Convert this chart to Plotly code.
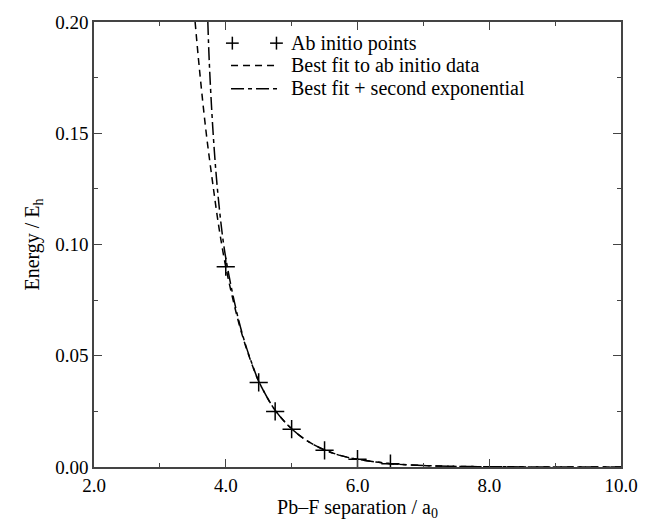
import plotly.graph_objects as go

# Ab initio Pb-F repulsive energies (bohr, hartree)
abinitio_r = [4.0, 4.5, 4.75, 5.0, 5.5, 6.0, 6.5]
abinitio_e = [0.090, 0.038, 0.025, 0.017, 0.0075, 0.0035, 0.0015]

# Fitted curve sampled along r
fit_r = [3.535, 3.6, 3.7, 3.8, 3.9, 4.0, 4.1, 4.2, 4.3, 4.4, 4.5, 4.75, 5.0, 5.25,
         5.5, 5.75, 6.0, 6.5, 7.0, 7.5, 8.0, 9.0, 10.0]
fit_e = [0.200, 0.179, 0.151, 0.128, 0.107, 0.090, 0.0765, 0.0645, 0.0545, 0.046, 0.0385,
         0.0255, 0.0172, 0.0115, 0.0077, 0.0051, 0.0035, 0.0015, 0.00065, 0.00028,
         0.00012, 0.00002, 0.000005]

# Fit plus a short-range second exponential
fit2_r = [3.728, 3.75, 3.8, 3.85, 3.9, 3.95, 4.0, 4.1, 4.2, 4.3, 4.4, 4.5, 4.75, 5.0,
          5.25, 5.5, 5.75, 6.0, 6.5, 7.0, 7.5, 8.0, 9.0, 10.0]
fit2_e = [0.200, 0.182, 0.154, 0.133, 0.117, 0.104, 0.094, 0.0785, 0.0655, 0.055, 0.0463,
          0.0386, 0.0255, 0.0172, 0.0115, 0.0077, 0.0051, 0.0035, 0.0015, 0.00065,
          0.00028, 0.00012, 0.00002, 0.000005]

legend_labels = ["Ab initio points", "Best fit to ab initio data",
                 "Best fit + second exponential"]

FONT = "Liberation Serif"
FS = 20
TICK_FS = 19
DASH = "7px,5px"
DASHDOT = "13px,4px,4px,4px"

fig = go.Figure()
fig.add_trace(go.Scatter(x=fit_r, y=fit_e, mode="lines", line_shape="spline",
                         line=dict(color="black", width=1.5, dash=DASH),
                         showlegend=False))
fig.add_trace(go.Scatter(x=fit2_r, y=fit2_e, mode="lines", line_shape="spline",
                         line=dict(color="black", width=1.5, dash=DASHDOT),
                         showlegend=False))
fig.add_trace(go.Scatter(x=abinitio_r, y=abinitio_e, mode="markers",
                         marker=dict(symbol="cross-thin", size=13,
                                     line=dict(color="black", width=1.5)),
                         showlegend=False))

# Key inside the plot, placed in axis units near the top
key_x0, key_x1, key_text_x = 4.10, 4.77, 4.96
key_rows = [0.1905, 0.1805, 0.1700]
arm_x, arm_y = 0.097, 0.0029

shapes = []
for cx in (key_x0, key_x1):
    shapes.append(dict(type="line", xref="x", yref="y",
                       x0=cx - arm_x, x1=cx + arm_x, y0=key_rows[0], y1=key_rows[0],
                       line=dict(color="black", width=1.5)))
    shapes.append(dict(type="line", xref="x", yref="y",
                       x0=cx, x1=cx, y0=key_rows[0] - arm_y, y1=key_rows[0] + arm_y,
                       line=dict(color="black", width=1.5)))
for row, dash in ((key_rows[1], DASH), (key_rows[2], DASHDOT)):
    shapes.append(dict(type="line", xref="x", yref="y",
                       x0=key_x0 - 0.02, x1=key_x1 + 0.02, y0=row, y1=row,
                       line=dict(color="black", width=1.5, dash=dash)))

annotations = [dict(text=label, xref="x", yref="y", x=key_text_x, y=row,
                    xanchor="left", yanchor="middle", showarrow=False,
                    font=dict(family=FONT, size=FS, color="black"))
               for row, label in zip(key_rows, legend_labels)]

axis_common = dict(showline=True, linecolor="#444", linewidth=1.5, mirror="allticks",
                   ticks="inside", ticklen=8, tickwidth=1.2, tickcolor="#444",
                   showgrid=False, zeroline=False,
                   tickfont=dict(family=FONT, size=TICK_FS, color="black"))

fig.update_layout(
    width=650, height=522,
    margin=dict(l=94, r=18, t=22, b=44),
    paper_bgcolor="white", plot_bgcolor="white",
    font=dict(family=FONT, size=FS, color="black"),
    shapes=shapes, annotations=annotations,
    xaxis=dict(range=[2.0, 10.0], tickvals=[2, 4, 6, 8, 10],
               ticktext=["2.0", "4.0", "6.0", "8.0", "10.0"],
               minor=dict(dtick=1, ticks="inside", ticklen=4, tickcolor="#444"),
               title=dict(text="Pb\u2013F separation / a<sub>0</sub>", standoff=0,
                          font=dict(family=FONT, size=FS, color="black")),
               **axis_common),
    yaxis=dict(range=[0.0, 0.2], tickvals=[0, 0.05, 0.10, 0.15, 0.20],
               ticktext=["0.00", "0.05", "0.10", "0.15", "0.20"],
               minor=dict(dtick=0.025, ticks="inside", ticklen=4, tickcolor="#444"),
               title=dict(text="Energy / E<sub>h</sub>", standoff=10,
                          font=dict(family=FONT, size=FS, color="black")),
               **axis_common),
)

fig.write_html("out.html")
